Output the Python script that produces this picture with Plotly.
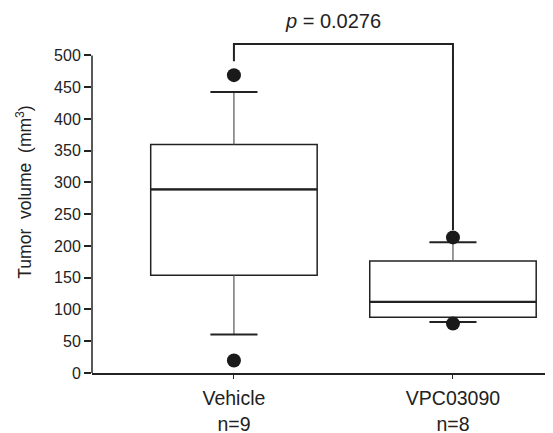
import plotly.graph_objects as go

# ---- data ----
groups = ["Vehicle", "VPC03090"]
group_n = [9, 8]
x_pos = [0, 1]
q1 = [153.8, 87.7]
median = [289.0, 112.0]
q3 = [359.7, 176.4]
whisker_low = [60.5, 80.5]
whisker_high = [442.6, 205.7]
outliers_x = [0, 0, 1, 1]
outliers_y = [469.0, 19.7, 213.5, 77.8]
y_ticks = [0, 50, 100, 150, 200, 250, 300, 350, 400, 450, 500]
p_value = "0.0276"
bracket_top = 518
bracket_left_end = 491
bracket_right_end = 225

# ---- styles ----
DARK = "#222222"
FONT = "Liberation Sans, Arial, Helvetica, sans-serif"
box_w = 0.76
cap_w = 0.215

fig = go.Figure()

fig.add_trace(go.Box(
    x=x_pos, q1=q1, median=median, q3=q3,
    lowerfence=q1, upperfence=q3,
    width=box_w, boxpoints=False,
    fillcolor="white", line=dict(color=DARK, width=1.5),
    hoverinfo="skip", showlegend=False,
))

for i, xc in enumerate(x_pos):
    fig.add_trace(go.Scatter(
        x=[xc, xc, None, xc, xc],
        y=[q3[i], whisker_high[i], None, q1[i], whisker_low[i]],
        mode="lines", line=dict(color="#555555", width=1.2),
        hoverinfo="skip", showlegend=False,
    ))
    fig.add_trace(go.Scatter(
        x=[xc - cap_w / 2, xc + cap_w / 2, None, xc - cap_w / 2, xc + cap_w / 2],
        y=[whisker_high[i], whisker_high[i], None, whisker_low[i], whisker_low[i]],
        mode="lines", line=dict(color=DARK, width=2),
        hoverinfo="skip", showlegend=False,
    ))
    fig.add_trace(go.Scatter(
        x=[xc - box_w / 2, xc + box_w / 2], y=[median[i], median[i]],
        mode="lines", line=dict(color=DARK, width=2.2),
        hoverinfo="skip", showlegend=False,
    ))

fig.add_trace(go.Scatter(
    x=outliers_x, y=outliers_y, mode="markers",
    marker=dict(color="#1a1a1a", size=14),
    cliponaxis=False, hoverinfo="skip", showlegend=False,
))

fig.add_trace(go.Scatter(
    x=[x_pos[0], x_pos[0], x_pos[1], x_pos[1]],
    y=[bracket_left_end, bracket_top, bracket_top, bracket_right_end],
    mode="lines", line=dict(color=DARK, width=2),
    hoverinfo="skip", showlegend=False,
))
fig.add_annotation(
    x=0.45, y=555, xref="x", yref="y",
    text="<i>p</i> = " + p_value, showarrow=False,
    font=dict(family=FONT, size=20, color=DARK),
)

fig.add_shape(type="line", xref="paper", yref="y", x0=0, x1=0,
              y0=y_ticks[0], y1=y_ticks[-1], line=dict(color=DARK, width=1.5))

# page body has an 8px margin, so the figure is sized to fit the 553x433 window
fig.update_layout(
    width=545, height=425,
    margin=dict(l=84, r=3, t=3, b=59.5, autoexpand=False),
    paper_bgcolor="white", plot_bgcolor="white",
    font=dict(family=FONT, color=DARK),
    showlegend=False,
    xaxis=dict(
        range=[-0.648, 1.443],
        tickvals=x_pos,
        ticktext=[f"{g}<br>n={n}" for g, n in zip(groups, group_n)],
        tickfont=dict(size=19.5, family=FONT, color=DARK),
        ticks="outside", ticklen=4, tickwidth=1.2, tickcolor=DARK,
        ticklabelstandoff=3,
        showline=True, linecolor=DARK, linewidth=1.5,
        showgrid=False, zeroline=False, automargin=False,
    ),
    yaxis=dict(
        range=[0, 570],
        tickvals=y_ticks,
        tickfont=dict(size=16, family=FONT, color=DARK),
        ticks="outside", ticklen=7, tickwidth=1.5, tickcolor=DARK,
        showline=False, showgrid=False, zeroline=False, automargin=False,
        title=dict(text="Tumor  volume  (mm<sup>3</sup>)",
                   font=dict(size=17.5, family=FONT, color=DARK), standoff=17),
    ),
)

fig.write_html("out.html")
